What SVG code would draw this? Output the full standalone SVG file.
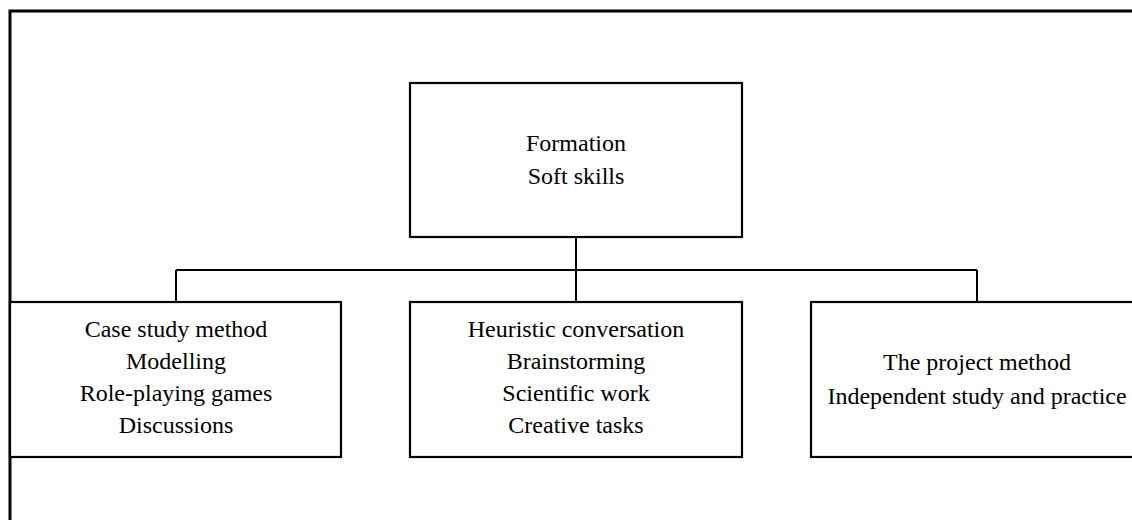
<svg xmlns="http://www.w3.org/2000/svg" width="1132" height="520" viewBox="0 0 1132 520">
<style>
.box{fill:#fff;stroke:#000;stroke-width:2.2}
.frame{fill:none;stroke:#000;stroke-width:3}
.conn{fill:none;stroke:#000;stroke-width:2}
text{font-family:"Liberation Serif","Times New Roman",serif;font-size:24px;fill:#000;text-anchor:middle}
</style>
<rect width="1132" height="520" fill="#fff"/>
<path class="frame" d="M10,530 V11 H1140"/>
<g id="connectors">
<path class="conn" d="M576,237 V302"/>
<path class="conn" d="M176,270 H977"/>
<path class="conn" d="M176,270 V302"/>
<path class="conn" d="M977,270 V302"/>
</g>
<g id="top">
<rect class="box" x="410" y="83" width="332" height="154"/>
<text x="576" y="151">Formation</text>
<text x="576" y="184">Soft skills</text>
</g>
<g id="left">
<rect class="box" x="10" y="302" width="331" height="155"/>
<text x="176" y="337">Case study method</text>
<text x="176" y="369">Modelling</text>
<text x="176" y="401">Role-playing games</text>
<text x="176" y="433">Discussions</text>
</g>
<g id="middle">
<rect class="box" x="410" y="302" width="332" height="155"/>
<text x="576" y="337">Heuristic conversation</text>
<text x="576" y="369">Brainstorming</text>
<text x="576" y="401">Scientific work</text>
<text x="576" y="433">Creative tasks</text>
</g>
<g id="right">
<rect class="box" x="811" y="302" width="332" height="155"/>
<text x="977" y="370">The project method</text>
<text x="977" y="404">Independent study and practice</text>
</g>
</svg>
